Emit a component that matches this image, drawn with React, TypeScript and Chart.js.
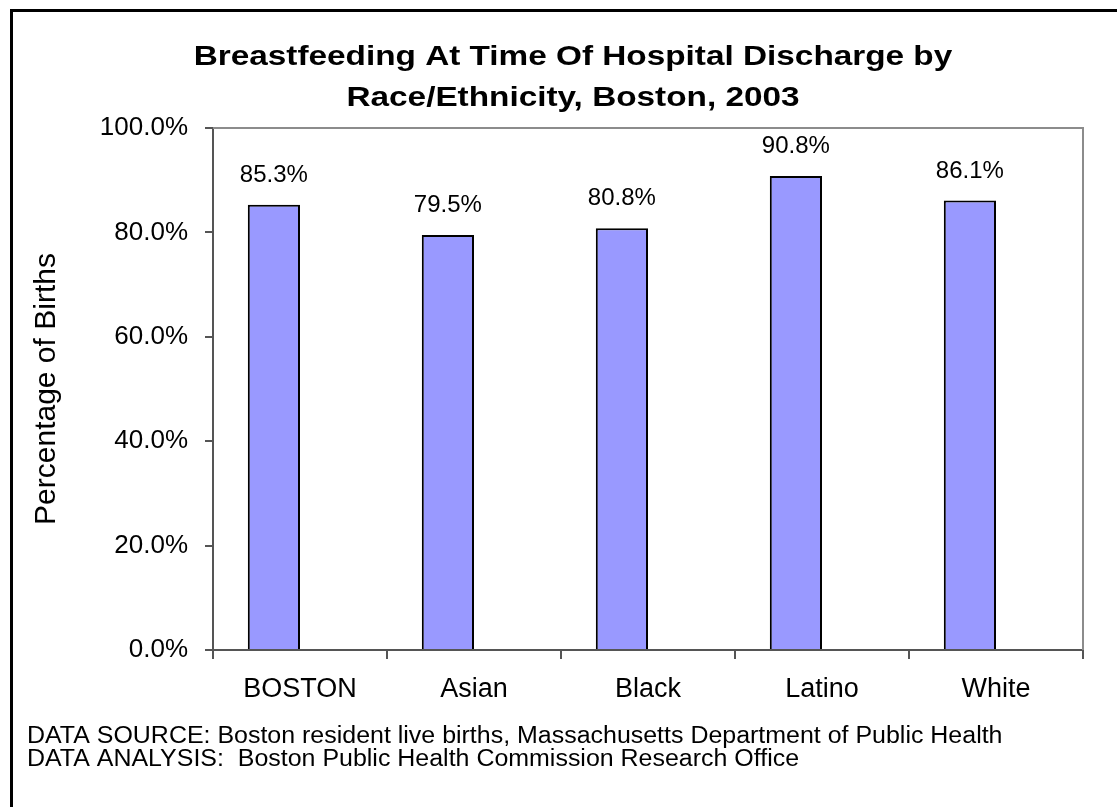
import React, { useEffect, useRef } from 'react';
import { Chart, registerables } from 'chart.js';

Chart.register(...registerables);

const categories = ['BOSTON', 'Asian', 'Black', 'Latino', 'White'];
const breastfeedingPct = [85.3, 79.5, 80.8, 90.8, 86.1];
const emptySeries: (number | null)[] = [null, null, null, null, null];
const yTicks = [0, 20, 40, 60, 80, 100];
const titleLines = ['Breastfeeding At Time Of Hospital Discharge by', 'Race/Ethnicity, Boston, 2003'];
const yAxisTitle = 'Percentage of Births';
const footerLines = [
  'DATA SOURCE: Boston resident live births, Massachusetts Department of Public Health',
  'DATA ANALYSIS:  Boston Public Health Commission Research Office',
];

const FAMILY = '"Liberation Sans", Arial, Helvetica, sans-serif';

const framePlugin = {
  id: 'frame',
  beforeDraw(chart: any) {
    const ctx = chart.ctx;
    ctx.save();
    ctx.fillStyle = '#ffffff';
    ctx.fillRect(0, 0, chart.width, chart.height);
    ctx.fillStyle = '#000000';
    ctx.fillRect(10, 9, 3, chart.height - 9);
    ctx.fillRect(10, 9, chart.width - 10, 3);
    ctx.restore();
  },
  beforeDatasetsDraw(chart: any) {
    const { ctx, chartArea } = chart;
    ctx.save();
    ctx.strokeStyle = '#8c8c8c';
    ctx.lineWidth = 2;
    ctx.beginPath();
    ctx.moveTo(chartArea.left, chartArea.top);
    ctx.lineTo(chartArea.right, chartArea.top);
    ctx.lineTo(chartArea.right, chartArea.bottom);
    ctx.stroke();
    ctx.restore();
  },
};

const valueLabelPlugin = {
  id: 'valueLabels',
  afterDatasetsDraw(chart: any) {
    const ctx = chart.ctx;
    const meta = chart.getDatasetMeta(0);
    ctx.save();
    ctx.font = `24px ${FAMILY}`;
    ctx.fillStyle = '#000';
    ctx.textAlign = 'center';
    ctx.textBaseline = 'alphabetic';
    meta.data.forEach((bar: any, i: number) => {
      const v = chart.data.datasets[0].data[i];
      if (v == null) return;
      ctx.fillText(`${Number(v).toFixed(1)}%`, bar.x, bar.y - 23);
    });
    ctx.restore();
  },
};

const drawStretched = (ctx: any, text: string, x: number, y: number, sx: number) => {
  ctx.save();
  ctx.translate(x, y);
  ctx.scale(sx, 1);
  ctx.fillText(text, 0, 0);
  ctx.restore();
};

const textPlugin = {
  id: 'titleFooter',
  afterDraw(chart: any) {
    const ctx = chart.ctx;
    ctx.save();
    ctx.fillStyle = '#000';
    ctx.font = `bold 28px ${FAMILY}`;
    ctx.textAlign = 'center';
    ctx.textBaseline = 'alphabetic';
    titleLines.forEach((line, i) => drawStretched(ctx, line, 573, 65 + i * 41, 1.19));
    ctx.font = `23px ${FAMILY}`;
    ctx.textAlign = 'left';
    footerLines.forEach((line, i) => drawStretched(ctx, line, 27, 743 + i * 23, 1.085));
    ctx.restore();
  },
};

export default function App() {
  const ref = useRef<HTMLCanvasElement>(null);
  useEffect(() => {
    const canvas = ref.current!;
    Chart.defaults.font.family = FAMILY;
    const chart = new Chart(canvas, {
      type: 'bar',
      data: {
        labels: categories,
        datasets: [
          {
            label: 'Breastfeeding',
            data: breastfeedingPct,
            backgroundColor: '#9999FF',
            borderColor: '#000000',
            borderWidth: 2,
            categoryPercentage: 0.6,
            barPercentage: 1,
          },
          {
            label: '',
            data: emptySeries,
            backgroundColor: '#993366',
            borderColor: '#000000',
            borderWidth: 2,
            categoryPercentage: 0.6,
            barPercentage: 1,
          },
        ],
      },
      options: {
        responsive: false,
        animation: false,
        layout: { padding: { left: 27, right: 34, top: 128, bottom: 97 } },
        plugins: {
          legend: { display: false },
          tooltip: { enabled: false },
          title: { display: false },
        },
        scales: {
          x: {
            grid: {
              offset: true,
              drawOnChartArea: false,
              drawTicks: true,
              tickLength: 9,
              color: '#555555',
              lineWidth: 2,
            },
            border: { color: '#555555', width: 2 },
            ticks: { font: { size: 27 }, color: '#000000', padding: 14, maxRotation: 0 },
            afterFit: (s: any) => {
              s.height = 60;
            },
          },
          y: {
            min: 0,
            max: 100,
            afterBuildTicks: (s: any) => {
              s.ticks = yTicks.map((v) => ({ value: v }));
            },
            ticks: {
              font: { size: 26 },
              color: '#000000',
              padding: 17,
              callback: (v: any) => `${Number(v).toFixed(1)}%`,
            },
            grid: { drawOnChartArea: false, tickLength: 8, color: '#555555', lineWidth: 2 },
            border: { color: '#555555', width: 2 },
            title: {
              display: true,
              text: yAxisTitle,
              font: { size: 30 },
              color: '#000000',
              padding: { top: 2, bottom: 0 },
            },
            afterFit: (s: any) => {
              s.width = 186;
            },
          },
        },
      },
      plugins: [framePlugin, valueLabelPlugin, textPlugin],
    });
    return () => chart.destroy();
  }, []);
  return (
    <div style={{ position: 'absolute', left: 0, top: 0, width: 1117, height: 807, background: '#fff' }}>
      <canvas ref={ref} width={1117} height={807} style={{ width: 1117, height: 807, display: 'block' }} />
    </div>
  );
}
